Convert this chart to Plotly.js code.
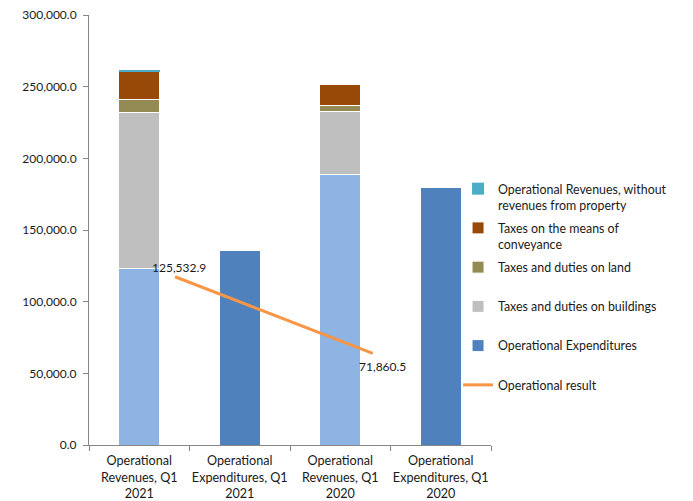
<!DOCTYPE html>
<html>
<head>
<meta charset="utf-8">
<script src="https://cdn.plot.ly/plotly-3.0.1.min.js"></script>
<style>html,body{margin:0;padding:0;background:#fff;}#chart{width:693px;height:501px;}</style>
</head>
<body>
<div id="chart"></div>
<script>
const categories = [
  "Operational<br>Revenues, Q1<br>2021",
  "Operational<br>Expenditures, Q1<br>2021",
  "Operational<br>Revenues, Q1<br>2020",
  "Operational<br>Expenditures, Q1<br>2020"
];
const revenuesBase = [123300, null, 188900, null];
const buildingsTaxes = [108500, null, 43700, null];
const landTaxes = [9400, null, 4600, null];
const conveyanceTaxes = [19300, null, 14500, null];
const revenuesWithoutProperty = [800, null, 200, null];
const expenditures = [null, 135600, null, 180000];
const resultPeriods = ["Q1 2021", "Q1 2020"];
const operationalResult = [125532.9, 71860.5];
const resultLabels = ["125,532.9", "71,860.5"];

const font = {family: "Lato, 'Open Sans', sans-serif", size: 12, color: "#1a1a1a"};
const legendFont = {family: "Lato, 'Open Sans', sans-serif", size: 12.4, color: "#1a1a1a"};
const xFont = {family: "Lato, 'Open Sans', sans-serif", size: 12.6, color: "#1a1a1a"};
const barLine = {color: "#ffffff", width: 1};
const bw = 0.41;

const traces = [
  {type: "bar", x: categories, y: revenuesBase, name: "Operational Revenues",
   marker: {color: "#8EB4E3", line: barLine}, width: bw, showlegend: false, legendgroup: "g0"},
  {type: "bar", x: categories, y: buildingsTaxes, name: "Taxes and duties on buildings<br> ",
   marker: {color: "#BFBFBF", line: barLine}, width: bw, legendrank: 4, legendgroup: "g4"},
  {type: "bar", x: categories, y: landTaxes, name: "Taxes and duties on land<br> ",
   marker: {color: "#948A54", line: barLine}, width: bw, legendrank: 3, legendgroup: "g3"},
  {type: "bar", x: categories, y: conveyanceTaxes, name: "Taxes on the means of<br>conveyance",
   marker: {color: "#984807", line: barLine}, width: bw, legendrank: 2, legendgroup: "g2"},
  {type: "bar", x: categories, y: revenuesWithoutProperty, name: "Operational Revenues, without<br>revenues from property",
   marker: {color: "#4BACC6", line: {color: "#4BACC6", width: 0}}, width: bw, legendrank: 1, legendgroup: "g1"},
  {type: "bar", x: categories, y: expenditures, name: "Operational Expenditures<br> ",
   marker: {color: "#4F81BD", line: barLine}, width: bw, legendrank: 5, legendgroup: "g5"},
  {type: "scatter", mode: "lines", x: resultPeriods, y: operationalResult,
   xaxis: "x2", yaxis: "y2", name: "Operational result",
   line: {color: "#F79646", width: 3}, legendrank: 6, legendgroup: "g6"}
];

const labelShifts = [{xs: 4, ys: 9}, {xs: 10, ys: -13}];
const annotations = resultPeriods.map((p, i) => ({
  x: p, y: operationalResult[i], xref: "x2", yref: "y2",
  text: resultLabels[i], showarrow: false, font: font,
  xshift: labelShifts[i].xs, yshift: labelShifts[i].ys
}));

const layout = {
  width: 693, height: 501,
  margin: {l: 89, r: 202, t: 15, b: 56},
  paper_bgcolor: "#ffffff", plot_bgcolor: "#ffffff",
  font: font,
  barmode: "stack",
  showlegend: true,
  annotations: annotations,
  legend: {x: 0.918, xanchor: "left", y: 0.63, yanchor: "top", traceorder: "grouped",
           valign: "top", font: legendFont, bgcolor: "rgba(0,0,0,0)", tracegroupgap: 4},
  xaxis: {type: "category", showgrid: false, showline: true, linecolor: "#868686", linewidth: 1,
          ticks: "outside", tickson: "boundaries", ticklen: 5, tickcolor: "#868686",
          tickfont: xFont, tickangle: 0, ticklabelstandoff: 4, zeroline: false},
  yaxis: {range: [0, 300000], dtick: 50000, tickformat: ",.1f", showgrid: false,
          showline: true, linecolor: "#868686", linewidth: 1, ticks: "outside", ticklen: 5,
          tickcolor: "#868686", tickfont: font, ticklabelstandoff: 4, zeroline: false},
  xaxis2: {type: "category", overlaying: "x", range: [-0.435, 1.598], visible: false},
  yaxis2: {overlaying: "y", range: [7600, 309000], visible: false}
};

Plotly.newPlot("chart", traces, layout, {displayModeBar: false, staticPlot: true});
</script>
</body>
</html>
